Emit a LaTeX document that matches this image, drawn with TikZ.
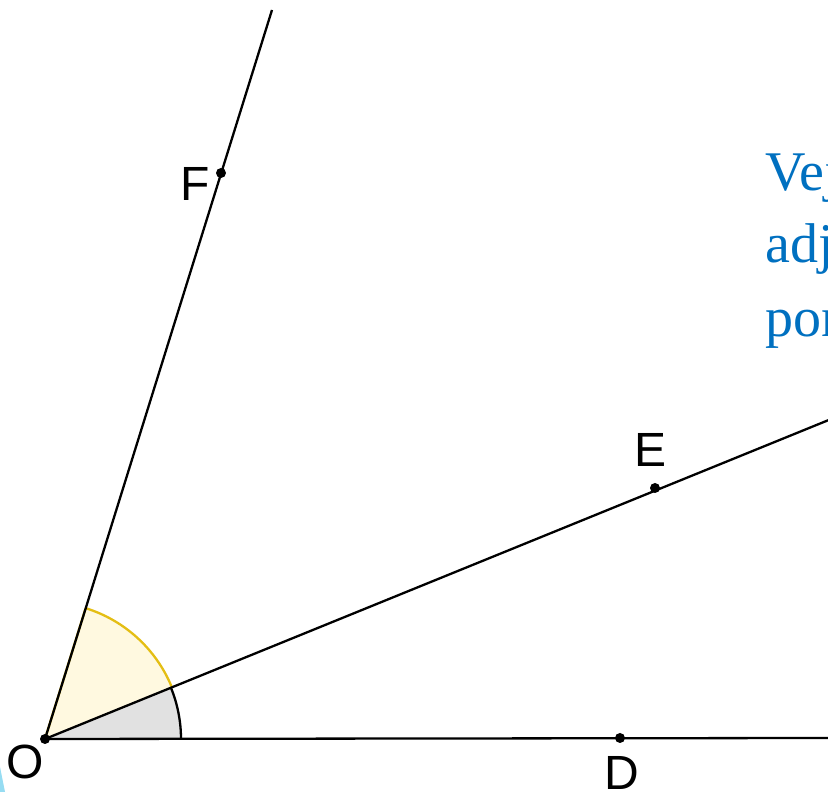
\documentclass[tikz,border=0pt]{standalone}
\usepackage{fontspec}
\newfontfamily\ptfont{Liberation Sans}
\newfontfamily\notefont{Liberation Serif}
\definecolor{angblue}{RGB}{0,112,192}
\definecolor{anggray}{RGB}{225,225,225}
\definecolor{angyellow}{RGB}{255,249,224}
\definecolor{anggold}{RGB}{228,190,20}
\definecolor{angcyan}{RGB}{150,220,242}
\usetikzlibrary{calc}
\tikzset{
  ray/.style={line width=2.3pt,black},
  pt/.style={circle,fill=black,inner sep=0pt,minimum size=10pt},
  lab/.style={font=\ptfont\fontsize{48}{48}\selectfont,inner sep=0pt},
  note/.style={font=\notefont\fontsize{56}{73}\selectfont,text=angblue,
               anchor=base west,inner sep=0pt},
}
\begin{document}
\begin{tikzpicture}[x=1pt,y=1pt]
    \useasboundingbox (0,0) rectangle (828,792);
    \clip (0,0) rectangle (828,792);
    % points and ray ends
    \coordinate (O) at (45,53);
    \coordinate (Dend) at (830,54);
    \coordinate (Eend) at (900,401);
    \coordinate (Fend) at (272,782);
    % angle sectors
    \fill[angyellow] (O) -- ++(22.36:137) arc[start angle=22.36,end angle=72.73,radius=137] -- cycle;
    \draw[anggold,line width=2.3pt] ($(O)+(22.36:137)$) arc[start angle=22.36,end angle=72.73,radius=137];
    \fill[anggray] (O) -- ++(0.1:136) arc[start angle=0.1,end angle=22.36,radius=136] -- cycle;
    \draw[black,line width=2.3pt] ($(O)+(0.1:136)$) arc[start angle=0.1,end angle=22.36,radius=136];
    \draw[anggold,line width=2.3pt] (O) -- ($(O)+(72.73:137)$);
    % rays
    \draw[ray] (O) -- (Dend);
    \draw[ray] (O) -- (Eend);
    \draw[ray] (O) -- (Fend);
    \node[pt] (Opt) at (O) {};
    \node[pt] (D) at (620,54) {};
    \node[pt] (E) at (655,304) {};
    \node[pt] (F) at (221,619) {};
    \node[lab] (Olab) at (25,30) {O};
    \node[lab] (Dlab) at (622,19) {D};
    \node[lab] (Elab) at (651,342) {E};
    \node[lab] (Flab) at (195,608) {F};
    % blue note, cut at the edge
    \node[note] (n1) at (765,601) {Vej};
    \node[note] (n2) at (765,529) {adj};
    \node[note] (n3) at (765,455) {pon};
    \fill[angcyan] (0,0) -- (0,25) -- (5,0) -- cycle;
  \end{tikzpicture}
\end{document}
